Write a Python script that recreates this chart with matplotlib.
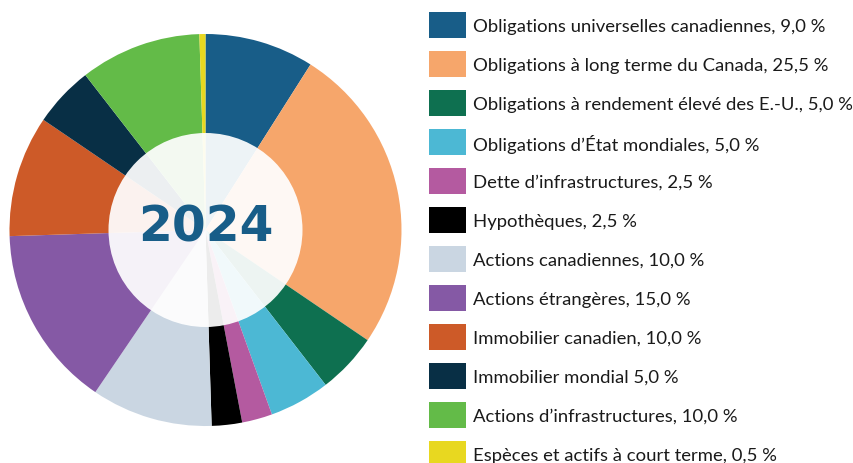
import matplotlib
matplotlib.use("Agg")
import matplotlib.pyplot as plt
from matplotlib.patches import Circle, Rectangle

labels = [
    "Obligations universelles canadiennes, 9,0 %",
    "Obligations à long terme du Canada, 25,5 %",
    "Obligations à rendement élevé des E.-U., 5,0 %",
    "Obligations d’État mondiales, 5,0 %",
    "Dette d’infrastructures, 2,5 %",
    "Hypothèques, 2,5 %",
    "Actions canadiennes, 10,0 %",
    "Actions étrangères, 15,0 %",
    "Immobilier canadien, 10,0 %",
    "Immobilier mondial 5,0 %",
    "Actions d’infrastructures, 10,0 %",
    "Espèces et actifs à court terme, 0,5 %",
]
values = [9.0, 25.5, 5.0, 5.0, 2.5, 2.5, 10.0, 15.0, 10.0, 5.0, 10.0, 0.5]
colors = ["#185d88", "#f6a66b", "#0e7050", "#4cb8d4", "#b45aa0", "#000000",
          "#cad6e2", "#8559a5", "#cd5a28", "#082f45", "#63bb48", "#e8d820"]
center_label = "2024"

W, H = 854, 464
fig = plt.figure(figsize=(W / 100, H / 100), dpi=100)
ax = fig.add_axes([0, 0, 1, 1])

cx, cy, R = 205.5, H - 231, 196
ax.pie(values, colors=colors, startangle=90, counterclock=False,
       radius=R, center=(cx, cy), frame=True,
       wedgeprops=dict(linewidth=0))
ax.add_patch(Circle((cx, cy), 97, facecolor="white", alpha=0.93,
                    edgecolor="none", zorder=5))
ax.text(cx, cy + 3, center_label, ha="center", va="center",
        fontsize=35, fontweight="bold", color="#185d88",
        family="DejaVu Sans", zorder=6)

# legend
x0, y0, step = 429, 26, 39
for i, (lab, col) in enumerate(zip(labels, colors)):
    yc = H - (y0 + i * step)
    ax.add_patch(Rectangle((x0, yc - 13), 37, 26, facecolor=col,
                           edgecolor="none"))
    ax.text(473, yc - 1, lab, ha="left", va="center", fontsize=13.3,
            color="#1a1a1a", family="Lato")

ax.set_xlim(0, W)
ax.set_ylim(0, H)
ax.set_aspect("equal")
ax.axis("off")
fig.savefig("out.png", dpi=100)
